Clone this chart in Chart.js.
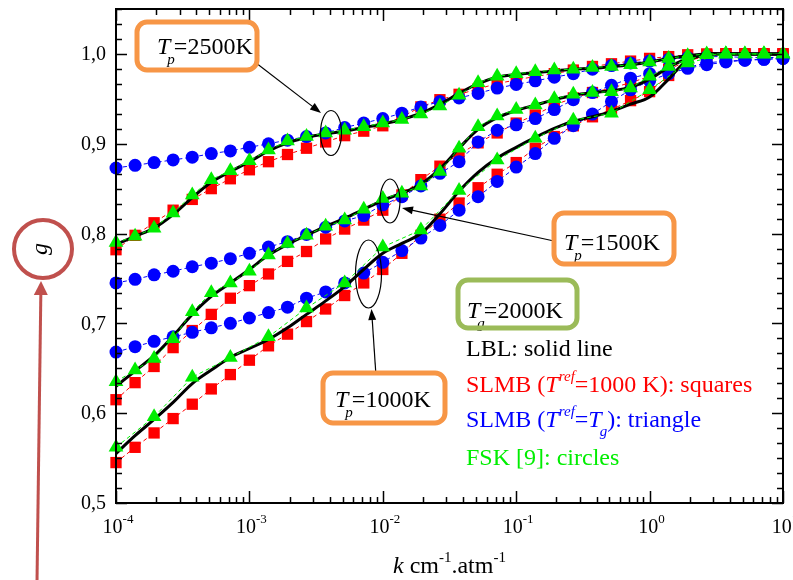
<!DOCTYPE html>
<html>
<head>
<meta charset="utf-8">
<script src="https://cdn.jsdelivr.net/npm/chart.js@4.4.1/dist/chart.umd.min.js"></script>
<style>
  html, body { margin: 0; padding: 0; background: #fff; }
  #wrap { width: 793px; height: 580px; position: relative; }
</style>
</head>
<body>
<div id="wrap"><canvas id="gChart"></canvas></div>
<script>
// pressure based absorption coefficient k (cm-1.atm-1), 7 points per decade
const kValues = [
  1.00e-4, 1.39e-4, 1.93e-4, 2.68e-4, 3.73e-4, 5.18e-4, 7.20e-4,
  1.00e-3, 1.39e-3, 1.93e-3, 2.68e-3, 3.73e-3, 5.18e-3, 7.20e-3,
  1.00e-2, 1.39e-2, 1.93e-2, 2.68e-2, 3.73e-2, 5.18e-2, 7.20e-2,
  1.00e-1, 1.39e-1, 1.93e-1, 2.68e-1, 3.73e-1, 5.18e-1, 7.20e-1,
  1.00e0, 1.39e0, 1.93e0, 2.68e0, 3.73e0, 5.18e0, 7.20e0, 1.00e1
];

// Tp = 2500K
const lbl2500   = [0.788, 0.797, 0.806, 0.821, 0.840, 0.857, 0.869, 0.880, 0.892, 0.901, 0.907, 0.911, 0.914, 0.918, 0.922, 0.927, 0.934, 0.944, 0.956, 0.967, 0.974, 0.977, 0.979, 0.981, 0.983, 0.984, 0.986, 0.988, 0.991, 0.995, 0.998, 1.000, 1.000, 1.000, 1.000, 1.000];
const slmbRef2500 = [0.782, 0.798, 0.812, 0.826, 0.838, 0.850, 0.861, 0.871, 0.880, 0.888, 0.895, 0.902, 0.909, 0.914, 0.920, 0.930, 0.941, 0.949, 0.955, 0.961, 0.967, 0.971, 0.975, 0.978, 0.982, 0.986, 0.989, 0.992, 0.995, 0.997, 0.999, 1.000, 1.000, 1.000, 1.000, 1.000];
const slmbTg2500  = [0.790, 0.797, 0.806, 0.823, 0.843, 0.860, 0.870, 0.881, 0.893, 0.903, 0.908, 0.912, 0.915, 0.919, 0.923, 0.927, 0.933, 0.942, 0.954, 0.968, 0.975, 0.978, 0.980, 0.982, 0.983, 0.985, 0.986, 0.988, 0.991, 0.995, 0.998, 1.000, 1.000, 1.000, 1.000, 1.000];
const fsk2500     = [0.873, 0.876, 0.879, 0.882, 0.885, 0.889, 0.892, 0.896, 0.900, 0.904, 0.908, 0.912, 0.918, 0.923, 0.928, 0.934, 0.941, 0.947, 0.951, 0.956, 0.962, 0.966, 0.970, 0.974, 0.978, 0.983, 0.987, 0.990, 0.992, 0.994, 0.996, 0.997, 0.997, 0.996, 0.996, 0.996];

// Tp = 1500K
const lbl1500   = [0.630, 0.647, 0.664, 0.686, 0.710, 0.730, 0.745, 0.760, 0.776, 0.788, 0.798, 0.808, 0.817, 0.827, 0.837, 0.845, 0.855, 0.872, 0.895, 0.916, 0.929, 0.937, 0.943, 0.949, 0.954, 0.957, 0.959, 0.963, 0.972, 0.985, 0.995, 1.000, 1.000, 1.000, 1.000, 1.000];
const slmbRef1500 = [0.615, 0.634, 0.652, 0.673, 0.692, 0.710, 0.728, 0.742, 0.755, 0.769, 0.780, 0.794, 0.805, 0.815, 0.826, 0.843, 0.860, 0.875, 0.888, 0.901, 0.912, 0.923, 0.932, 0.943, 0.951, 0.957, 0.962, 0.968, 0.975, 0.983, 0.992, 0.998, 1.000, 1.000, 1.000, 1.000];
const slmbTg1500  = [0.635, 0.648, 0.661, 0.683, 0.713, 0.734, 0.745, 0.758, 0.776, 0.789, 0.798, 0.808, 0.815, 0.827, 0.839, 0.845, 0.853, 0.869, 0.895, 0.919, 0.931, 0.938, 0.943, 0.950, 0.955, 0.957, 0.958, 0.962, 0.975, 0.986, 0.994, 0.999, 1.000, 1.000, 1.000, 1.000];
const fsk1500     = [0.745, 0.749, 0.754, 0.758, 0.763, 0.767, 0.772, 0.778, 0.785, 0.791, 0.799, 0.807, 0.814, 0.820, 0.832, 0.841, 0.853, 0.867, 0.880, 0.902, 0.915, 0.921, 0.928, 0.938, 0.949, 0.957, 0.965, 0.973, 0.978, 0.982, 0.985, 0.990, 0.992, 0.993, 0.994, 0.995];

// Tp = 1000K (triangles only on every other point)
const lbl1000   = [0.555, 0.575, 0.593, 0.612, 0.633, 0.648, 0.662, 0.672, 0.682, 0.695, 0.710, 0.725, 0.741, 0.760, 0.778, 0.789, 0.800, 0.822, 0.847, 0.868, 0.884, 0.896, 0.907, 0.917, 0.925, 0.930, 0.936, 0.944, 0.952, 0.972, 0.993, 0.999, 1.000, 1.000, 1.000, 1.000];
const slmbRef1000 = [0.545, 0.562, 0.578, 0.594, 0.610, 0.627, 0.643, 0.659, 0.675, 0.688, 0.702, 0.716, 0.731, 0.745, 0.760, 0.778, 0.798, 0.816, 0.834, 0.851, 0.866, 0.879, 0.895, 0.908, 0.920, 0.930, 0.938, 0.948, 0.958, 0.976, 0.992, 0.999, 1.000, 1.000, 1.000, 1.000];
const slmbTg1000  = [0.562, null, 0.596, null, 0.640, null, 0.662, null, 0.685, null, 0.717, null, 0.745, null, 0.785, null, 0.804, null, 0.848, null, 0.882, null, 0.906, null, 0.926, null, 0.934, null, 0.960, null, 0.990, null, 1.000, null, 1.000, null];
const fsk1000     = [0.668, 0.674, 0.680, 0.685, 0.690, 0.695, 0.700, 0.706, 0.712, 0.718, 0.728, 0.735, 0.745, 0.756, 0.768, 0.781, 0.795, 0.809, 0.826, 0.841, 0.858, 0.874, 0.889, 0.906, 0.920, 0.933, 0.947, 0.960, 0.970, 0.978, 0.984, 0.988, 0.991, 0.993, 0.994, 0.995];

// axis ticks
const yTickValues = [0.5, 0.6, 0.7, 0.8, 0.9, 1.0];
const yTickLabels = ['0,5', '0,6', '0,7', '0,8', '0,9', '1,0'];
const xTickValues = [1e-4, 1e-3, 1e-2, 1e-1, 1e0, 1e1];
const xTickExponents = ['-4', '-3', '-2', '-1', '0', '1'];

const RED = '#ff0000', BLUE = '#0000ff', GREEN = '#00ee00';
const SERIF = '"Liberation Serif", "Times New Roman", serif';

function pts(vals) {
    return vals.map((v, i) => ({ x: kValues[i], y: v })).filter(p => p.y !== null);
}

function lblSet(vals) {
    return { data: pts(vals), borderColor: '#000', borderWidth: 3, pointRadius: 0, tension: 0.35, fill: false };
}
function squareSet(vals) {
    return { data: pts(vals), borderColor: RED, borderWidth: 1, borderDash: [4, 3], pointStyle: 'rect',
             pointRadius: 8, pointBackgroundColor: RED, pointBorderWidth: 0, tension: 0 };
}
function circleSet(vals) {
    return { data: pts(vals), borderColor: BLUE, borderWidth: 1, borderDash: [4, 3], pointStyle: 'circle',
             pointRadius: 6.5, pointBackgroundColor: BLUE, pointBorderWidth: 0, tension: 0 };
}
function triangleSet(vals) {
    return { data: pts(vals), borderColor: GREEN, borderWidth: 1, borderDash: [4, 3], pointStyle: 'triangle',
             pointRadius: 8.5, pointBackgroundColor: GREEN, pointBorderWidth: 0, tension: 0 };
}

function richText(ctx, x, y, parts, color) {
    let cx = x;
    ctx.fillStyle = color;
    ctx.textBaseline = 'alphabetic';
    ctx.textAlign = 'left';
    parts.forEach(p => {
        ctx.font = (p.italic ? 'italic ' : '') + p.size + 'px ' + SERIF;
        ctx.fillText(p.t, cx + (p.dx || 0), y + (p.dy || 0));
        cx += ctx.measureText(p.t).width + (p.dx || 0);
    });
}

function arrow(ctx, x1, y1, x2, y2, color, width, headLen, headW) {
    const a = Math.atan2(y2 - y1, x2 - x1);
    ctx.strokeStyle = color;
    ctx.fillStyle = color;
    ctx.lineWidth = width;
    ctx.beginPath();
    ctx.moveTo(x1, y1);
    ctx.lineTo(x2 - Math.cos(a) * headLen * 0.8, y2 - Math.sin(a) * headLen * 0.8);
    ctx.stroke();
    ctx.beginPath();
    ctx.moveTo(x2, y2);
    ctx.lineTo(x2 - Math.cos(a) * headLen - Math.sin(a) * headW, y2 - Math.sin(a) * headLen + Math.cos(a) * headW);
    ctx.lineTo(x2 - Math.cos(a) * headLen + Math.sin(a) * headW, y2 - Math.sin(a) * headLen - Math.cos(a) * headW);
    ctx.closePath();
    ctx.fill();
}

function box(ctx, x, y, w, h, color) {
    ctx.strokeStyle = color;
    ctx.lineWidth = 5;
    ctx.beginPath();
    ctx.roundRect(x, y, w, h, 10);
    ctx.stroke();
}

function ellipse(ctx, cx, cy, rx, ry) {
    ctx.strokeStyle = '#000';
    ctx.lineWidth = 1.2;
    ctx.beginPath();
    ctx.ellipse(cx, cy, rx, ry, 0, 0, Math.PI * 2);
    ctx.stroke();
}

const decor = {
    id: 'decor',
    afterDraw(chart) {
        const ctx = chart.ctx;
        const xs = chart.scales.x, ys = chart.scales.y;
        const a = chart.chartArea;
        ctx.save();

        // frame
        ctx.strokeStyle = '#000';
        ctx.lineWidth = 2;
        ctx.strokeRect(a.left, a.top, a.right - a.left, a.bottom - a.top);

        // y ticks (inward, both sides), minor every 1/60
        ctx.lineWidth = 1.5;
        for (let j = 0; j <= 33; j++) {
            const py = Math.round(ys.getPixelForValue(0.5 + j / 60)) + 0.5;
            const len = j % 6 === 0 ? 11 : 6;
            ctx.beginPath();
            ctx.moveTo(a.left, py); ctx.lineTo(a.left + len, py);
            ctx.moveTo(a.right, py); ctx.lineTo(a.right - len, py);
            ctx.stroke();
        }
        // x ticks (inward, top and bottom)
        for (let d = -4; d <= 1; d++) {
            for (let m = 1; m <= 9; m++) {
                const v = m * Math.pow(10, d);
                if (v > 10.0001) break;
                const px = Math.round(xs.getPixelForValue(v)) + 0.5;
                const len = m === 1 ? 12 : 6;
                ctx.beginPath();
                ctx.moveTo(px, a.bottom); ctx.lineTo(px, a.bottom - len);
                ctx.moveTo(px, a.top); ctx.lineTo(px, a.top + len);
                ctx.stroke();
            }
        }

        // y tick labels
        ctx.fillStyle = '#000';
        ctx.font = '20px ' + SERIF;
        ctx.textAlign = 'right';
        ctx.textBaseline = 'middle';
        yTickValues.forEach((v, i) => {
            ctx.fillText(yTickLabels[i], a.left - 10, ys.getPixelForValue(v) + 1);
        });

        // x tick labels 10^n
        xTickValues.forEach((v, i) => {
            const px = xs.getPixelForValue(v);
            ctx.font = '20px ' + SERIF;
            const w1 = ctx.measureText('10').width;
            ctx.font = '13px ' + SERIF;
            const w2 = ctx.measureText(xTickExponents[i]).width;
            const x0 = px - (w1 + w2) / 2 + 2;
            richText(ctx, x0, 533, [
                { t: '10', size: 20 },
                { t: xTickExponents[i], size: 13, dy: -10 }
            ], '#000');
        });

        // x axis title
        richText(ctx, 393, 573, [
            { t: 'k', size: 24, italic: true },
            { t: ' cm', size: 24 },
            { t: '-1', size: 15, dy: -11 },
            { t: '.atm', size: 24 },
            { t: '-1', size: 15, dy: -11 }
        ], '#000');

        // y axis title g in a circle, with arrow from below
        ctx.strokeStyle = '#c0504d';
        ctx.lineWidth = 4;
        ctx.beginPath();
        ctx.arc(43, 249, 29, 0, Math.PI * 2);
        ctx.stroke();
        ctx.save();
        ctx.translate(43, 249);
        ctx.rotate(-Math.PI / 2);
        ctx.fillStyle = '#000';
        ctx.font = 'italic 24px ' + SERIF;
        ctx.textAlign = 'center';
        ctx.textBaseline = 'middle';
        ctx.fillText('g', 0, -2);
        ctx.restore();
        arrow(ctx, 37, 582, 41, 281, '#c0504d', 3, 14, 7);

        // ellipses and arrows pointing at the curves
        ellipse(ctx, 331, 133, 10.5, 22.5);
        ellipse(ctx, 390, 201, 10, 22);
        ellipse(ctx, 368.5, 274, 13, 34);
        arrow(ctx, 247, 56, 321, 113, '#000', 1.2, 11, 4);
        arrow(ctx, 554, 241, 402, 208, '#000', 1.2, 11, 4);
        arrow(ctx, 376, 376, 371.5, 309, '#000', 1.2, 11, 4);

        // Tp boxes
        const tp = (x, y, val) => richText(ctx, x, y, [
            { t: 'T', size: 24, italic: true },
            { t: 'p', size: 15, italic: true, dy: 10, dx: -3 },
            { t: '=' + val, size: 24, dx: -1 }
        ], '#000');
        ctx.fillStyle = '#fff';
        ctx.fillRect(137, 22, 120, 48);
        ctx.fillRect(554, 213, 120, 51);
        ctx.fillRect(323, 373, 122, 50);
        tp(157, 54, '2500K');
        tp(564, 250, '1500K');
        tp(335, 407, '1000K');
        box(ctx, 137, 22, 120, 48, '#f79646');
        box(ctx, 554, 213, 120, 51, '#f79646');
        box(ctx, 323, 373, 122, 50, '#f79646');

        // Tg box
        ctx.fillStyle = '#fff';
        ctx.fillRect(458, 280, 119, 48);
        richText(ctx, 467, 318, [
            { t: 'T', size: 24, italic: true },
            { t: 'g', size: 15, italic: true, dy: 10, dx: -3 },
            { t: '=2000K', size: 24, dx: -1 }
        ], '#000');
        box(ctx, 458, 280, 119, 48, '#9bbb59');

        // legend text
        richText(ctx, 466, 356, [{ t: 'LBL: solid line', size: 24 }], '#000');
        richText(ctx, 466, 392, [
            { t: 'SLMB (', size: 24 },
            { t: 'T', size: 24, italic: true },
            { t: 'ref', size: 15, italic: true, dy: -11 },
            { t: '=1000 K): squares', size: 24 }
        ], RED);
        richText(ctx, 466, 427, [
            { t: 'SLMB (', size: 24 },
            { t: 'T', size: 24, italic: true },
            { t: 'ref', size: 15, italic: true, dy: -11 },
            { t: '=', size: 24 },
            { t: 'T', size: 24, italic: true },
            { t: 'g', size: 15, italic: true, dy: 9, dx: -2 },
            { t: '): triangle', size: 24 }
        ], BLUE);
        richText(ctx, 466, 465, [{ t: 'FSK [9]: circles', size: 24 }], GREEN);

        ctx.restore();
    }
};

const ctx = document.getElementById('gChart').getContext('2d');
const gChart = new Chart(ctx, {
    type: 'line',
    data: {
        // first dataset is drawn on top
        datasets: [
            triangleSet(slmbTg2500), triangleSet(slmbTg1500), triangleSet(slmbTg1000),
            lblSet(lbl2500), lblSet(lbl1500), lblSet(lbl1000),
            circleSet(fsk2500), circleSet(fsk1500), circleSet(fsk1000),
            squareSet(slmbRef2500), squareSet(slmbRef1500), squareSet(slmbRef1000)
        ]
    },
    options: {
        responsive: true,
        maintainAspectRatio: false,
        animation: false,
        clip: false,
        layout: { padding: { left: 116, right: 10, top: 9, bottom: 77 } },
        plugins: { legend: { display: false }, tooltip: { enabled: false } },
        scales: {
            x: { type: 'logarithmic', min: 1e-4, max: 10, display: false },
            y: { type: 'linear', min: 0.5, max: 1.05, display: false }
        }
    },
    plugins: [decor]
});
</script>
</body>
</html>
